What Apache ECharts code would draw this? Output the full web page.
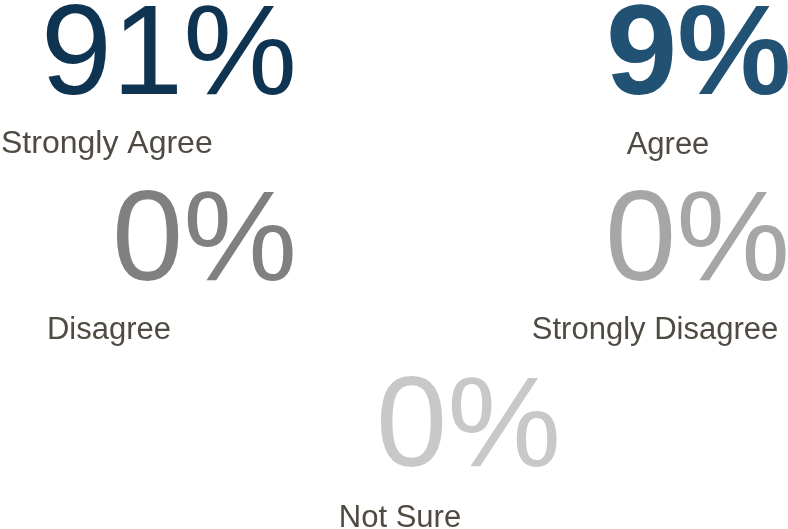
<!DOCTYPE html>
<html>
<head>
<meta charset="utf-8">
<style>
  html, body { margin: 0; padding: 0; background: #fff; }
  #chart { width: 788px; height: 529px; }
</style>
<script src="https://cdn.jsdelivr.net/npm/echarts@6/dist/echarts.min.js"></script>
</head>
<body>
<div id="chart"></div>
<script>
  // survey answers and their shares (%)
  var categories = ['Strongly Agree', 'Agree', 'Disagree', 'Strongly Disagree', 'Not Sure']
  var values = [91, 9, 0, 0, 0]

  // look of each block
  var colors = ['#0f3452', '#215273', '#808080', '#a6a6a6', '#c8c8c8']
  var weights = ['normal', 'bold', 'normal', 'normal', 'normal']
  // [number right x, number middle y, label x, label align, label middle y, label size]
  var layout = [
    [297, 59, 1, 'left', 144, 32],
    [791, 59, 668, 'center', 145, 31],
    [297, 245, 109, 'center', 330, 31],
    [790, 245, 655, 'center', 330, 31],
    [561, 431, 400, 'center', 518, 31]
  ]
  var font = "'Liberation Sans', Arial, sans-serif"

  var chart = echarts.init(document.getElementById('chart'))
  var elements = []
  categories.forEach(function (name, i) {
    var pos = layout[i]
    elements.push({
      type: 'text',
      x: pos[0],
      y: pos[1],
      style: {
        text: values[i] + '%',
        fill: colors[i],
        font: weights[i] + ' 128px ' + font,
        align: 'right',
        verticalAlign: 'middle'
      }
    })
    elements.push({
      type: 'text',
      x: pos[2],
      y: pos[4],
      style: {
        text: name,
        fill: '#4f4a42',
        font: pos[5] + 'px ' + font,
        align: pos[3],
        verticalAlign: 'middle'
      }
    })
  })

  chart.setOption({
    backgroundColor: '#fff',
    animation: false,
    graphic: elements
  })
</script>
</body>
</html>
